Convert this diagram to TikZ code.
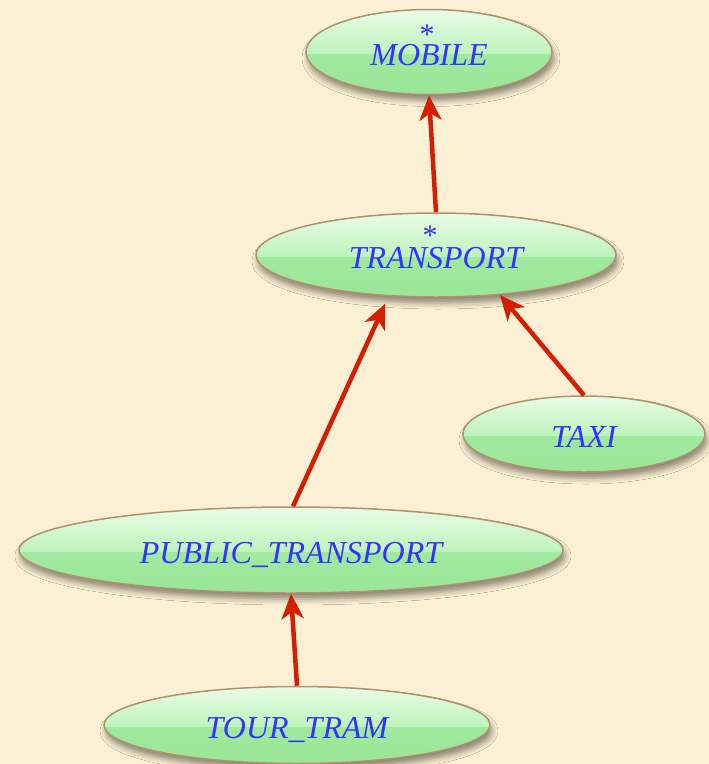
\documentclass[tikz,border=0pt]{standalone}
\usepackage{fontspec}
\setmainfont{Liberation Serif}
\usetikzlibrary{shapes.geometric,arrows.meta,shadows.blur,calc}

\definecolor{paper}{RGB}{252,240,212}
\definecolor{rim}{RGB}{176,146,106}
\definecolor{glosshi}{RGB}{234,252,230}
\definecolor{glossmid}{RGB}{190,243,188}
\definecolor{bodygreen}{RGB}{166,238,166}
\definecolor{bodylow}{RGB}{154,230,152}
\definecolor{inkblue}{RGB}{51,51,255}
\definecolor{linkred}{RGB}{212,30,0}

\tikzset{
  classnode/.style={
    ellipse, draw=rim, line width=1.5pt, inner sep=0pt,
    text height=26pt, text depth=0pt,
    font=\itshape\fontsize{32}{32}\selectfont, text=inkblue,
    blur shadow={shadow xshift=2pt, shadow yshift=-6pt,
      shadow blur radius=6pt, shadow opacity=45},
    path picture={
      \shade[top color=bodygreen, bottom color=bodylow]
        (path picture bounding box.south west) rectangle
        (path picture bounding box.north east);
      \shade[top color=glosshi, bottom color=glossmid]
        ([yshift=-1pt]path picture bounding box.west) rectangle
        (path picture bounding box.north east);
    }},
  deferred/.style={font=\fontsize{30}{30}\selectfont, text=inkblue,
    inner sep=0pt, anchor=base},
  inherits/.style={-{Stealth[length=25pt,width=22pt,inset=7pt]},
    draw=linkred, line width=4.5pt},
}

\begin{document}
\begin{tikzpicture}[x=1pt,y=-1pt]
  % paper background, also fixes the picture size
  \fill[paper] (0,0) rectangle (709,764);
  \useasboundingbox (0,0) rectangle (709,764);

  % classes
  \node[classnode, minimum width=246pt, minimum height=85pt] (mobile) at (429,52) {MOBILE};
  \node[classnode, minimum width=360pt, minimum height=84pt] (transport) at (436,255) {TRANSPORT};
  \node[classnode, minimum width=242pt, minimum height=76pt] (taxi) at (584,434) {TAXI};
  \node[classnode, minimum width=544pt, minimum height=86pt] (public) at (291,550) {PUBLIC\_TRANSPORT};
  \node[classnode, minimum width=386pt, minimum height=77pt] (tram) at (297,725) {TOUR\_TRAM};

  % deferred markers
  \node[deferred] (mobilestar) at ($(mobile.center)+(-2,-8)$) {*};
  \node[deferred] (transportstar) at ($(transport.center)+(-6,-10)$) {*};

  % inheritance links
  \draw[inherits] (transport.north) -- (mobile.south);
  \draw[inherits, shorten >=8pt] ([xshift=2pt]public.north) -- (transport.221);
  \draw[inherits] (taxi.north) -- (transport.328);
  \draw[inherits] (tram.north) -- (public.south);
\end{tikzpicture}
\end{document}
